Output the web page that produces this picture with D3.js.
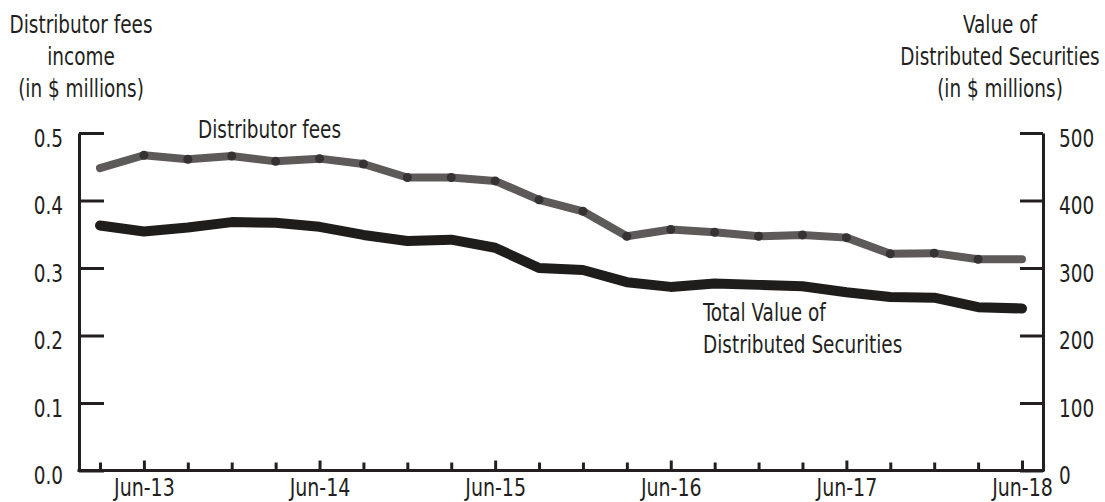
<!DOCTYPE html>
<html>
    <head>
        <script src="https://cdn.jsdelivr.net/npm/d3@7/dist/d3.min.js"></script>
        <style>
            body { margin: 0; background: #fff; }
            svg { width: 1105px; height: 502px; display: block; }
            text { font-family: "DejaVu Sans Condensed", "DejaVu Sans", sans-serif; font-stretch: condensed; font-size: 25px; fill: #231f20; }
            .axis path, .axis line { stroke: #231f20; stroke-width: 3; }
        </style>
    </head>
    <body>
        <svg></svg>
    </body>
    <script>
        // quarterly observations, Mar-13 .. Jun-18
        const quarters = ["Mar-13", "Jun-13", "Sep-13", "Dec-13", "Mar-14", "Jun-14", "Sep-14", "Dec-14",
                          "Mar-15", "Jun-15", "Sep-15", "Dec-15", "Mar-16", "Jun-16", "Sep-16", "Dec-16",
                          "Mar-17", "Jun-17", "Sep-17", "Dec-17", "Mar-18", "Jun-18"];
        // left axis, $ millions
        const distributorFees = [0.448, 0.467, 0.461, 0.466, 0.458, 0.462, 0.454, 0.434, 0.434, 0.429, 0.401,
                                 0.384, 0.347, 0.357, 0.353, 0.347, 0.349, 0.345, 0.321, 0.322, 0.313, 0.313];
        // right axis, $ millions
        const totalValue = [363, 354, 360, 368, 367, 361, 349, 340, 342, 330, 300,
                            297, 279, 272, 277, 275, 273, 264, 257, 256, 242, 240];
        const leftTicks = [0, 0.1, 0.2, 0.3, 0.4, 0.5];
        const rightTicks = [0, 100, 200, 300, 400, 500];
        const xLabels = ["Jun-13", "Jun-14", "Jun-15", "Jun-16", "Jun-17", "Jun-18"];

        const svg = d3.select("svg");
        const axisLeftX = 79, axisRightX = 1043, baseY = 470.5, topY = 133;
        const SQ = 0.82;   // horizontal squeeze to get a narrow face out of DejaVu

        // narrow a text around its own x position
        function squeeze(sel, s) {
            sel.each(function() {
                const t = d3.select(this);
                const x0 = +t.attr("x") || 0;
                t.attr("x", 0).attr("transform", `translate(${x0},0) scale(${s},1)`);
            });
        }

        const x = d3.scalePoint().domain(quarters).range([100, 1022]);
        const yL = d3.scaleLinear().domain([0, 0.5]).range([baseY, topY]);
        const yR = d3.scaleLinear().domain([0, 500]).range([baseY, topY]);

        // left axis
        const gl = svg.append("g").attr("class", "axis")
            .attr("transform", `translate(${axisLeftX},0)`)
            .call(d3.axisLeft(yL).tickValues(leftTicks).tickFormat(d3.format(".1f"))
                .tickSizeInner(-25).tickSizeOuter(0).tickPadding(16));
        gl.selectAll("text").attr("dy", "0.52em").call(squeeze, SQ);

        // right axis
        const gr = svg.append("g").attr("class", "axis")
            .attr("transform", `translate(${axisRightX},0)`)
            .call(d3.axisRight(yR).tickValues(rightTicks)
                .tickSizeInner(-23).tickSizeOuter(0).tickPadding(16));
        gr.selectAll("text").attr("dy", "0.52em").call(squeeze, SQ);

        // bottom axis
        const gb = svg.append("g").attr("class", "axis")
            .attr("transform", `translate(0,${baseY})`)
            .call(d3.axisBottom(x).tickSizeOuter(0).tickSizeInner(-8).tickPadding(8)
                .tickFormat(d => xLabels.includes(d) ? d : ""));
        gb.select(".domain").remove();
        gb.selectAll(".tick line").attr("y2", d => xLabels.includes(d) ? -10 : -8);
        gb.append("line")
            .attr("x1", axisLeftX - 1.5).attr("x2", axisRightX + 1.5)
            .attr("y1", 0).attr("y2", 0);
        gb.selectAll("text").style("font-size", "24px").attr("dy", "0.71em").call(squeeze, 0.88);

        // series
        const lineL = d3.line().x((d, i) => x(quarters[i])).y(d => yL(d));
        const lineR = d3.line().x((d, i) => x(quarters[i])).y(d => yR(d));

        svg.append("path").datum(totalValue)
            .attr("d", lineR)
            .attr("fill", "none").attr("stroke", "#1f1d1b").attr("stroke-width", 10)
            .attr("stroke-linecap", "round").attr("stroke-linejoin", "round");

        svg.append("path").datum(distributorFees)
            .attr("d", lineL)
            .attr("fill", "none").attr("stroke", "#5f5a5a").attr("stroke-width", 8)
            .attr("stroke-linecap", "round").attr("stroke-linejoin", "round");

        svg.selectAll(".dot").data(distributorFees.slice(1, -1))
            .enter().append("circle").attr("class", "dot")
            .attr("cx", (d, i) => x(quarters[i + 1]))
            .attr("cy", d => yL(d))
            .attr("r", 4.5)
            .attr("fill", "#363132");

        // multi-line label, squeezed around x
        function label(lines, x0, y0, step, anchor) {
            svg.append("text")
                .attr("text-anchor", anchor)
                .attr("transform", `translate(${x0},0) scale(${SQ},1)`)
                .selectAll("tspan").data(lines).enter().append("tspan")
                .attr("x", 0).attr("y", (d, i) => y0 + i * step).text(d => d);
        }

        // axis titles
        label(["Distributor fees", "income", "(in $ millions)"], 81, 33, 32, "middle");
        label(["Value of", "Distributed Securities", "(in $ millions)"], 1000, 33, 32, "middle");

        // series labels
        label(["Distributor fees"], 198, 138, 32, "start");
        label(["Total Value of", "Distributed Securities"], 703, 321.5, 32, "start");
    </script>
</html>
